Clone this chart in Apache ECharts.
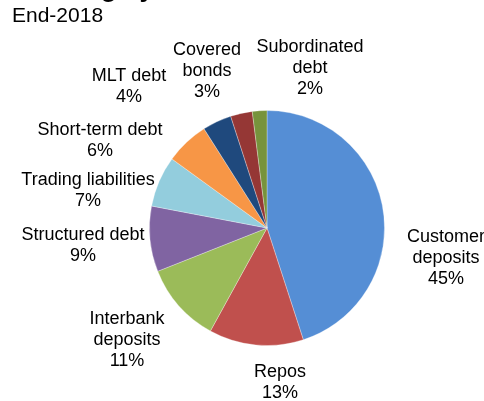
<!DOCTYPE html>
<html>
<head>
<meta charset="utf-8">
<script src="https://cdn.jsdelivr.net/npm/echarts@6/dist/echarts.min.js"></script>
<style>
  html, body { margin: 0; padding: 0; background: #fff; }
  #chart { width: 484px; height: 401px; }
</style>
</head>
<body>
<div id="chart"></div>
<script>
// ---- data ----
const categories = ['Customer deposits', 'Repos', 'Interbank deposits', 'Structured debt',
  'Trading liabilities', 'Short-term debt', 'MLT debt', 'Covered bonds', 'Subordinated debt'];
const labelLines = ['Customer\ndeposits', 'Repos', 'Interbank\ndeposits', 'Structured debt',
  'Trading liabilities', 'Short-term debt', 'MLT debt', 'Covered\nbonds', 'Subordinated\ndebt'];
const values = [45, 13, 11, 9, 7, 6, 4, 3, 2];
const titleText = 'Funding by source';
const subtitleText = 'End-2018';

// ---- styles / layout ----
const colors = ['#558ED5', '#C0504D', '#9BBB59', '#8064A2', '#93CDDD', '#F79646', '#1F497D', '#953735', '#77933C'];
const labelPos = [[446, 258], [280, 383], [127, 340], [83, 246], [88, 191], [100, 141], [129, 87], [207, 71], [310, 68]];
const FONT = 'Arial, "Liberation Sans", sans-serif';

const chart = echarts.init(document.getElementById('chart'), null, { renderer: 'canvas' });
chart.setOption({
  animation: false,
  backgroundColor: '#fff',
  graphic: [
    { type: 'text', left: 12, top: 6, style: { text: subtitleText, font: '21px ' + FONT, fill: '#000' } },
    { type: 'text', x: 14, y: -10.5, style: { text: titleText, font: 'bold 26px ' + FONT, fill: '#000', align: 'left', verticalAlign: 'middle' } }
  ],
  series: [{
    type: 'pie',
    center: [267, 228],
    radius: 117.5,
    startAngle: 90,
    clockwise: true,
    avoidLabelOverlap: false,
    silent: true,
    data: categories.map((c, i) => ({ name: c, value: values[i], itemStyle: { color: colors[i] } })),
    itemStyle: { borderColor: 'rgba(255,255,255,0.6)', borderWidth: 0.5 },
    label: {
      show: true,
      position: 'outside',
      color: '#000',
      fontFamily: FONT,
      fontSize: 18,
      lineHeight: 21,
      formatter: p => labelLines[p.dataIndex] + '\n' + values[p.dataIndex] + '%'
    },
    labelLine: { show: false },
    labelLayout: p => ({ x: labelPos[p.dataIndex][0], y: labelPos[p.dataIndex][1], align: 'center', verticalAlign: 'middle' })
  }]
});
</script>
</body>
</html>
